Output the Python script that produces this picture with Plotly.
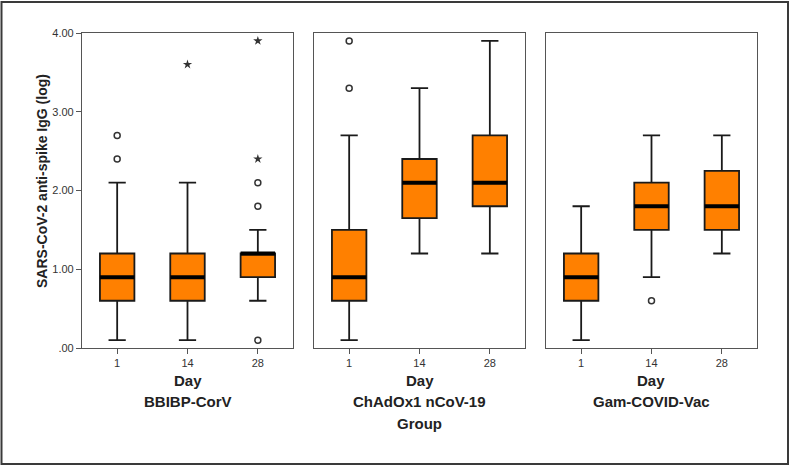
import plotly.graph_objects as go

GROUPS = ["BBIBP-CorV", "ChAdOx1 nCoV-19", "Gam-COVID-Vac"]
DAYS = ["1", "14", "28"]

# box statistics per group, one value per day
Q1 = [[0.6, 0.6, 0.9], [0.6, 1.65, 1.8], [0.6, 1.5, 1.5]]
MEDIAN = [[0.9, 0.9, 1.2], [0.9, 2.1, 2.1], [0.9, 1.8, 1.8]]
Q3 = [[1.2, 1.2, 1.2], [1.5, 2.4, 2.7], [1.2, 2.1, 2.25]]
LOWER = [[0.1, 0.1, 0.6], [0.1, 1.2, 1.2], [0.1, 0.9, 1.2]]
UPPER = [[2.1, 2.1, 1.5], [2.7, 3.3, 3.9], [1.8, 2.7, 2.7]]

# outliers (circle) and extremes (star)
OUT_GROUP = [0, 0, 0, 0, 0, 0, 0, 0, 1, 1, 2]
OUT_DAY = ["1", "1", "14", "28", "28", "28", "28", "28", "1", "1", "14"]
OUT_VALUE = [2.4, 2.7, 3.6, 0.1, 1.8, 2.1, 2.4, 3.9, 3.3, 3.9, 0.6]
OUT_KIND = ["o", "o", "*", "o", "o", "o", "*", "*", "o", "o", "o"]

Y_TICKS = [0, 1, 2, 3, 4]
Y_TEXT = [".00", "1.00", "2.00", "3.00", "4.00"]

ORANGE = "#ff8000"; INK = "#1a1a1a"; FRAME = "#555555"; TXT = "#222222"
FONT = "Arial, Liberation Sans, sans-serif"

ML, MR, MT, MB = 82, 33, 33, 118
W, H = 790, 466
PW, PH = W - ML - MR, H - MT - MB
DOMAINS = [[0, 0.3126], [0.3437, 0.6563], [0.6874, 1.0]]


def px_x(p):
    return (p - ML) / PW


def px_y(p):
    return (H - MB - p) / PH


fig = go.Figure()
for g in range(3):
    xa = "x" if g == 0 else f"x{g + 1}"
    ya = "y" if g == 0 else f"y{g + 1}"
    fig.add_trace(go.Box(x=DAYS, q1=Q1[g], median=MEDIAN[g], q3=Q3[g],
                         lowerfence=LOWER[g], upperfence=UPPER[g],
                         fillcolor=ORANGE, line=dict(color=INK, width=1.8),
                         whiskerwidth=0.5, xaxis=xa, yaxis=ya, showlegend=False))
    # thick median bar drawn as a collapsed box
    fig.add_trace(go.Box(x=DAYS, q1=MEDIAN[g], median=MEDIAN[g], q3=MEDIAN[g],
                         lowerfence=MEDIAN[g], upperfence=MEDIAN[g],
                         fillcolor="#000000", line=dict(color="#000000", width=4),
                         whiskerwidth=0, xaxis=xa, yaxis=ya, showlegend=False))
    for kind, sym, size, lw in [("o", "circle-open", 6, 1.5), ("*", "star", 7, 0)]:
        xs = [d for gg, d, k in zip(OUT_GROUP, OUT_DAY, OUT_KIND) if gg == g and k == kind]
        ys = [v for gg, v, k in zip(OUT_GROUP, OUT_VALUE, OUT_KIND) if gg == g and k == kind]
        if xs:
            fig.add_trace(go.Scatter(x=xs, y=ys, mode="markers", xaxis=xa, yaxis=ya, showlegend=False,
                                     marker=dict(symbol=sym, size=size, color="#333333",
                                                 line=dict(color="#333333", width=lw))))

axis_common = dict(showline=True, mirror=True, linecolor=FRAME, linewidth=1.2,
                   showgrid=False, zeroline=False)
layout = dict(width=W, height=H, margin=dict(l=ML, r=MR, t=MT, b=MB),
              paper_bgcolor="white", plot_bgcolor="white", boxmode="overlay", boxgap=0.3,
              font=dict(family=FONT, color=TXT), showlegend=False)
for g in range(3):
    sx = "" if g == 0 else str(g + 1)
    layout["xaxis" + sx] = dict(axis_common, domain=DOMAINS[g], type="category",
                                categoryorder="array", categoryarray=DAYS, range=[-0.5, 2.5],
                                anchor="y" + sx, ticks="outside", ticklen=5, tickcolor=FRAME,
                                tickfont=dict(size=11, color="#333333"))
    layout["yaxis" + sx] = dict(axis_common, anchor="x" + sx, range=[0, 4],
                                matches=None if g == 0 else "y")
    if g == 0:
        layout["yaxis"].update(tickvals=Y_TICKS, ticktext=Y_TEXT, ticks="outside", ticklen=5,
                               tickcolor=FRAME, tickfont=dict(size=11, color="#333333"))
    else:
        layout["yaxis" + sx].update(showticklabels=False, ticks="")
fig.update_layout(**layout)

ann = [dict(x=px_x(42), y=px_y(181), text="<b>SARS-CoV-2 anti-spike IgG (log)</b>",
            textangle=-90, font=dict(size=14))]
for g in range(3):
    cx = (DOMAINS[g][0] + DOMAINS[g][1]) / 2
    ann.append(dict(x=cx, y=px_y(380), text="<b>Day</b>", font=dict(size=15)))
    ann.append(dict(x=cx, y=px_y(401), text=f"<b>{GROUPS[g]}</b>", font=dict(size=15)))
ann.append(dict(x=(DOMAINS[1][0] + DOMAINS[1][1]) / 2, y=px_y(423), text="<b>Group</b>", font=dict(size=15)))
for a in ann:
    a.update(xref="paper", yref="paper", showarrow=False, xanchor="center", yanchor="middle")
fig.update_layout(annotations=ann)

# outer frame around the whole picture
fig.add_shape(type="rect", xref="paper", yref="paper",
              x0=px_x(1.5), x1=px_x(788), y0=px_y(464), y1=px_y(2),
              line=dict(color="#3a3a3a", width=2))

fig.write_html("out.html", config={"displayModeBar": False},
               post_script="document.body.style.margin='0';")
